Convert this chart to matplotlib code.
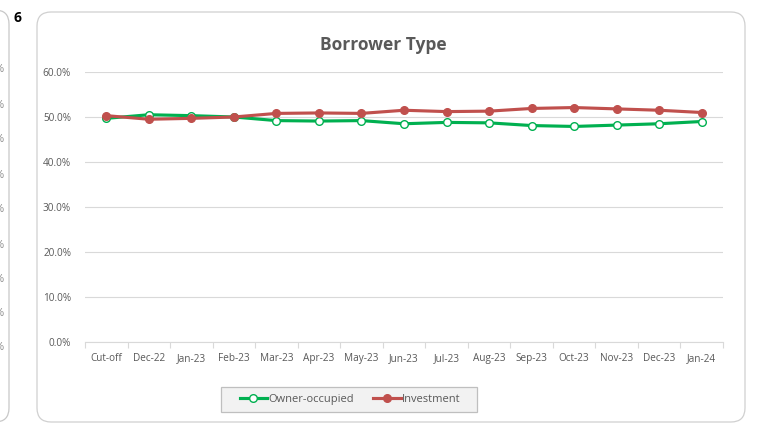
import numpy as np
import matplotlib.pyplot as plt
from matplotlib.patches import FancyBboxPatch, Rectangle
from matplotlib.lines import Line2D

plt.rcParams.update({"font.family": ["Open Sans", "DejaVu Sans"]})

categories = ["Cut-off", "Dec-22", "Jan-23", "Feb-23", "Mar-23", "Apr-23", "May-23",
              "Jun-23", "Jul-23", "Aug-23", "Sep-23", "Oct-23", "Nov-23", "Dec-23", "Jan-24"]
owner_occupied = [49.7, 50.5, 50.3, 50.0, 49.2, 49.1, 49.2, 48.5, 48.8, 48.7,
                  48.1, 47.9, 48.2, 48.5, 49.0]
investment = [50.3, 49.5, 49.7, 50.0, 50.8, 50.9, 50.8, 51.5, 51.2, 51.3,
              51.9, 52.1, 51.8, 51.5, 51.0]
y_ticks = [0, 10, 20, 30, 40, 50, 60]

W, H = 761, 428
fig = plt.figure(figsize=(W / 100, H / 100), dpi=100)

# chart frames (pixel coordinates), kept behind the axes
fig.patches.append(FancyBboxPatch((37, 6), 708, 410, boxstyle="round,pad=0,rounding_size=14",
                                  transform=None, fc="white", ec="#d0d0d0", lw=0.9, zorder=-2))
fig.patches.append(FancyBboxPatch((-120, 6), 129, 412, boxstyle="round,pad=0,rounding_size=14",
                                  transform=None, fc="white", ec="#c8c8c8", lw=0.9, zorder=-2))
fig.text(13 / W, 1 - 18 / H, "6", fontsize=10, fontweight="bold", va="center", ha="left")
for yp in [70, 105, 140, 175, 210, 245, 280, 313, 348]:
    fig.text(4 / W, 1 - yp / H, "%", fontsize=8, color="#8c8c8c", ha="right", va="center")

ax = fig.add_axes([85 / W, 1 - 342 / H, (723 - 85) / W, (342 - 72) / H])
ax.patch.set_visible(False)
x = np.arange(len(categories))

ax.plot(x, owner_occupied, color="#00b050", lw=2.25, marker="o", ms=5.5,
        mfc="white", mec="#00b050", mew=1.0, zorder=3)
ax.plot(x, investment, color="#c0504d", lw=2.25, marker="o", ms=5.5,
        mfc="#c0504d", mec="#c0504d", zorder=4)

ax.set_xlim(-0.5, len(categories) - 0.5)
ax.set_ylim(0, 60)
ax.set_yticks(y_ticks)
ax.set_yticklabels([f"{v:.1f}%" for v in y_ticks])
ax.set_xticks(x)
ax.set_xticklabels(categories)
ax.set_xticks(np.arange(len(categories) + 1) - 0.5, minor=True)
ax.tick_params(axis="x", which="major", length=0, pad=8, labelsize=7.2, colors="#595959")
ax.tick_params(axis="x", which="minor", length=4, color="#d9d9d9", width=0.8)
ax.tick_params(axis="y", length=0, pad=10, labelsize=7.2, colors="#595959")

ax.grid(axis="y", color="#d9d9d9", lw=0.8)
ax.set_axisbelow(True)
for s in ["top", "right", "left"]:
    ax.spines[s].set_visible(False)
ax.spines["bottom"].set_color("#d9d9d9")
ax.spines["bottom"].set_linewidth(0.8)
ax.spines["bottom"].set_zorder(1)

fig.text(383 / W, 1 - 45 / H, "Borrower Type", fontsize=12.5, fontweight="bold",
         color="#595959", ha="center", va="center")

# legend box drawn separately to get the wide inner padding
fig.patches.append(Rectangle((221, H - 412), 256, 25, transform=None,
                             fc="#f2f2f2", ec="#bfbfbf", lw=0.9, zorder=-1))
handles = [
    Line2D([], [], color="#00b050", lw=2.25, marker="o", ms=5.5, mfc="white", mec="#00b050"),
    Line2D([], [], color="#c0504d", lw=2.25, marker="o", ms=5.5, mfc="#c0504d", mec="#c0504d"),
]
leg = fig.legend(handles, ["Owner-occupied", "Investment"], loc="center",
                 bbox_to_anchor=(350 / W, 1 - 399.5 / H), ncol=2, frameon=False,
                 fontsize=8, handlelength=2.5, handletextpad=0.1, columnspacing=1.7,
                 borderpad=0, borderaxespad=0)
for t in leg.get_texts():
    t.set_color("#595959")

fig.savefig("out.png", dpi=100)
